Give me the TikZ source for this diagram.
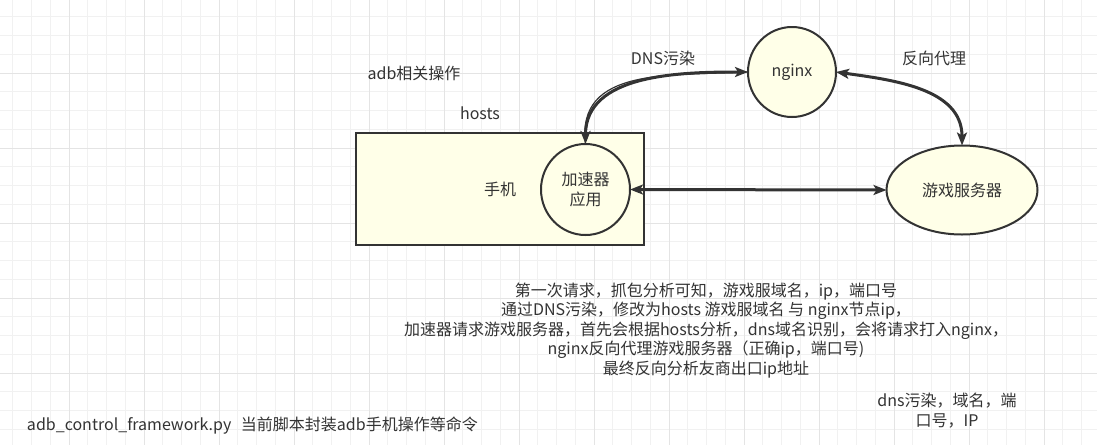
\documentclass[tikz,border=0pt]{standalone}
\usepackage{fontspec}
\usepackage{tikz}
\usetikzlibrary{positioning,shapes.geometric,arrows.meta}
\newfontfamily\cjk{Noto Sans CJK SC}
\definecolor{inkgray}{HTML}{333333}
\definecolor{paleyellow}{HTML}{FFFFE8}
\definecolor{minorline}{HTML}{F1F1F1}
\definecolor{majorline}{HTML}{E4E4E4}
\tikzset{
    txt/.style = {font=\cjk\fontsize{16}{19.5}\selectfont, text=inkgray, inner sep=0pt, outer sep=0pt},
    box/.style = {txt, draw=inkgray, fill=paleyellow, line width=2.5pt},
    ell/.style = {txt, ellipse, draw=inkgray, fill=paleyellow, line width=2pt, align=center},
    link/.style = {draw=inkgray, line width=3pt, {Stealth[length=13pt,width=10pt,inset=3pt]}-{Stealth[length=13pt,width=10pt,inset=3pt]}}
}

\begin{document}
\begin{tikzpicture}[x=1pt, y=-1pt]
    \fill[white] (0,0) rectangle (1097,445);
    \useasboundingbox (0,0) rectangle (1097,445);
%
    \foreach \i in {0,...,57} \draw[minorline, line width=1pt] ({12.75+18.75*\i},0) -- ++(0,445);
    \foreach \j in {0,...,22} \draw[minorline, line width=1pt] (0,{16.75+18.75*\j}) -- ++(1097,0);
    \foreach \i in {0,...,13} \draw[majorline, line width=1pt] ({69+75*\i},0) -- ++(0,445);
    \foreach \j in {0,...,4}  \draw[majorline, line width=1pt] (0,{73+75*\j}) -- ++(1097,0);
%
    \node[box, minimum width=288, minimum height=112] (phone) at (500,189) {手机};
    \node[ell, minimum width=89, minimum height=91]   (app)    at (585.5,189.5) {加速器\\应用};
    \node[ell, minimum width=88, minimum height=90]   (nginx)  at (792,72) {nginx};
    \node[ell, minimum width=151, minimum height=89]  (server) at (962,190) {游戏服务器};
%
    \node[txt] (dnslbl)   at (663,58)  {DNS污染};
    \node[txt] (proxylbl) at (934,58)  {反向代理};
    \node[txt] (adblbl)   at (414,73)  {adb相关操作};
    \node[txt] (hostslbl) at (480,113) {hosts};
%
    \draw[link] (app.north) to[out=90, in=180] (nginx.west);
    \draw[inkgray, line width=1.2pt] (app.north) to[out=97, in=183, looseness=1.12] (nginx.west);
    \draw[link] (nginx.east) to[out=-8, in=90] (server.north);
    \draw[link] (app.east) -- (server.west);
%
    \node[txt, align=center] (steps) at (706,330.5) {第一次请求，抓包分析可知，游戏服域名，ip，端口号\\
        通过DNS污染，修改为hosts 游戏服域名 与 nginx节点ip，\\
        加速器请求游戏服务器，首先会根据hosts分析，dns域名识别，会将请求打入nginx，\\
        nginx反向代理游戏服务器（正确ip，端口号)\\
        最终反向分析友商出口ip地址};
    \node[txt, align=center] (dnsnote) at (947,410.5) {dns污染，域名，端\\口号，IP};
    \node[txt, anchor=west] (script) at (27,426) {adb\_control\_framework.py\hspace{0.6em}当前脚本封装adb手机操作等命令};
\end{tikzpicture}
\end{document}
